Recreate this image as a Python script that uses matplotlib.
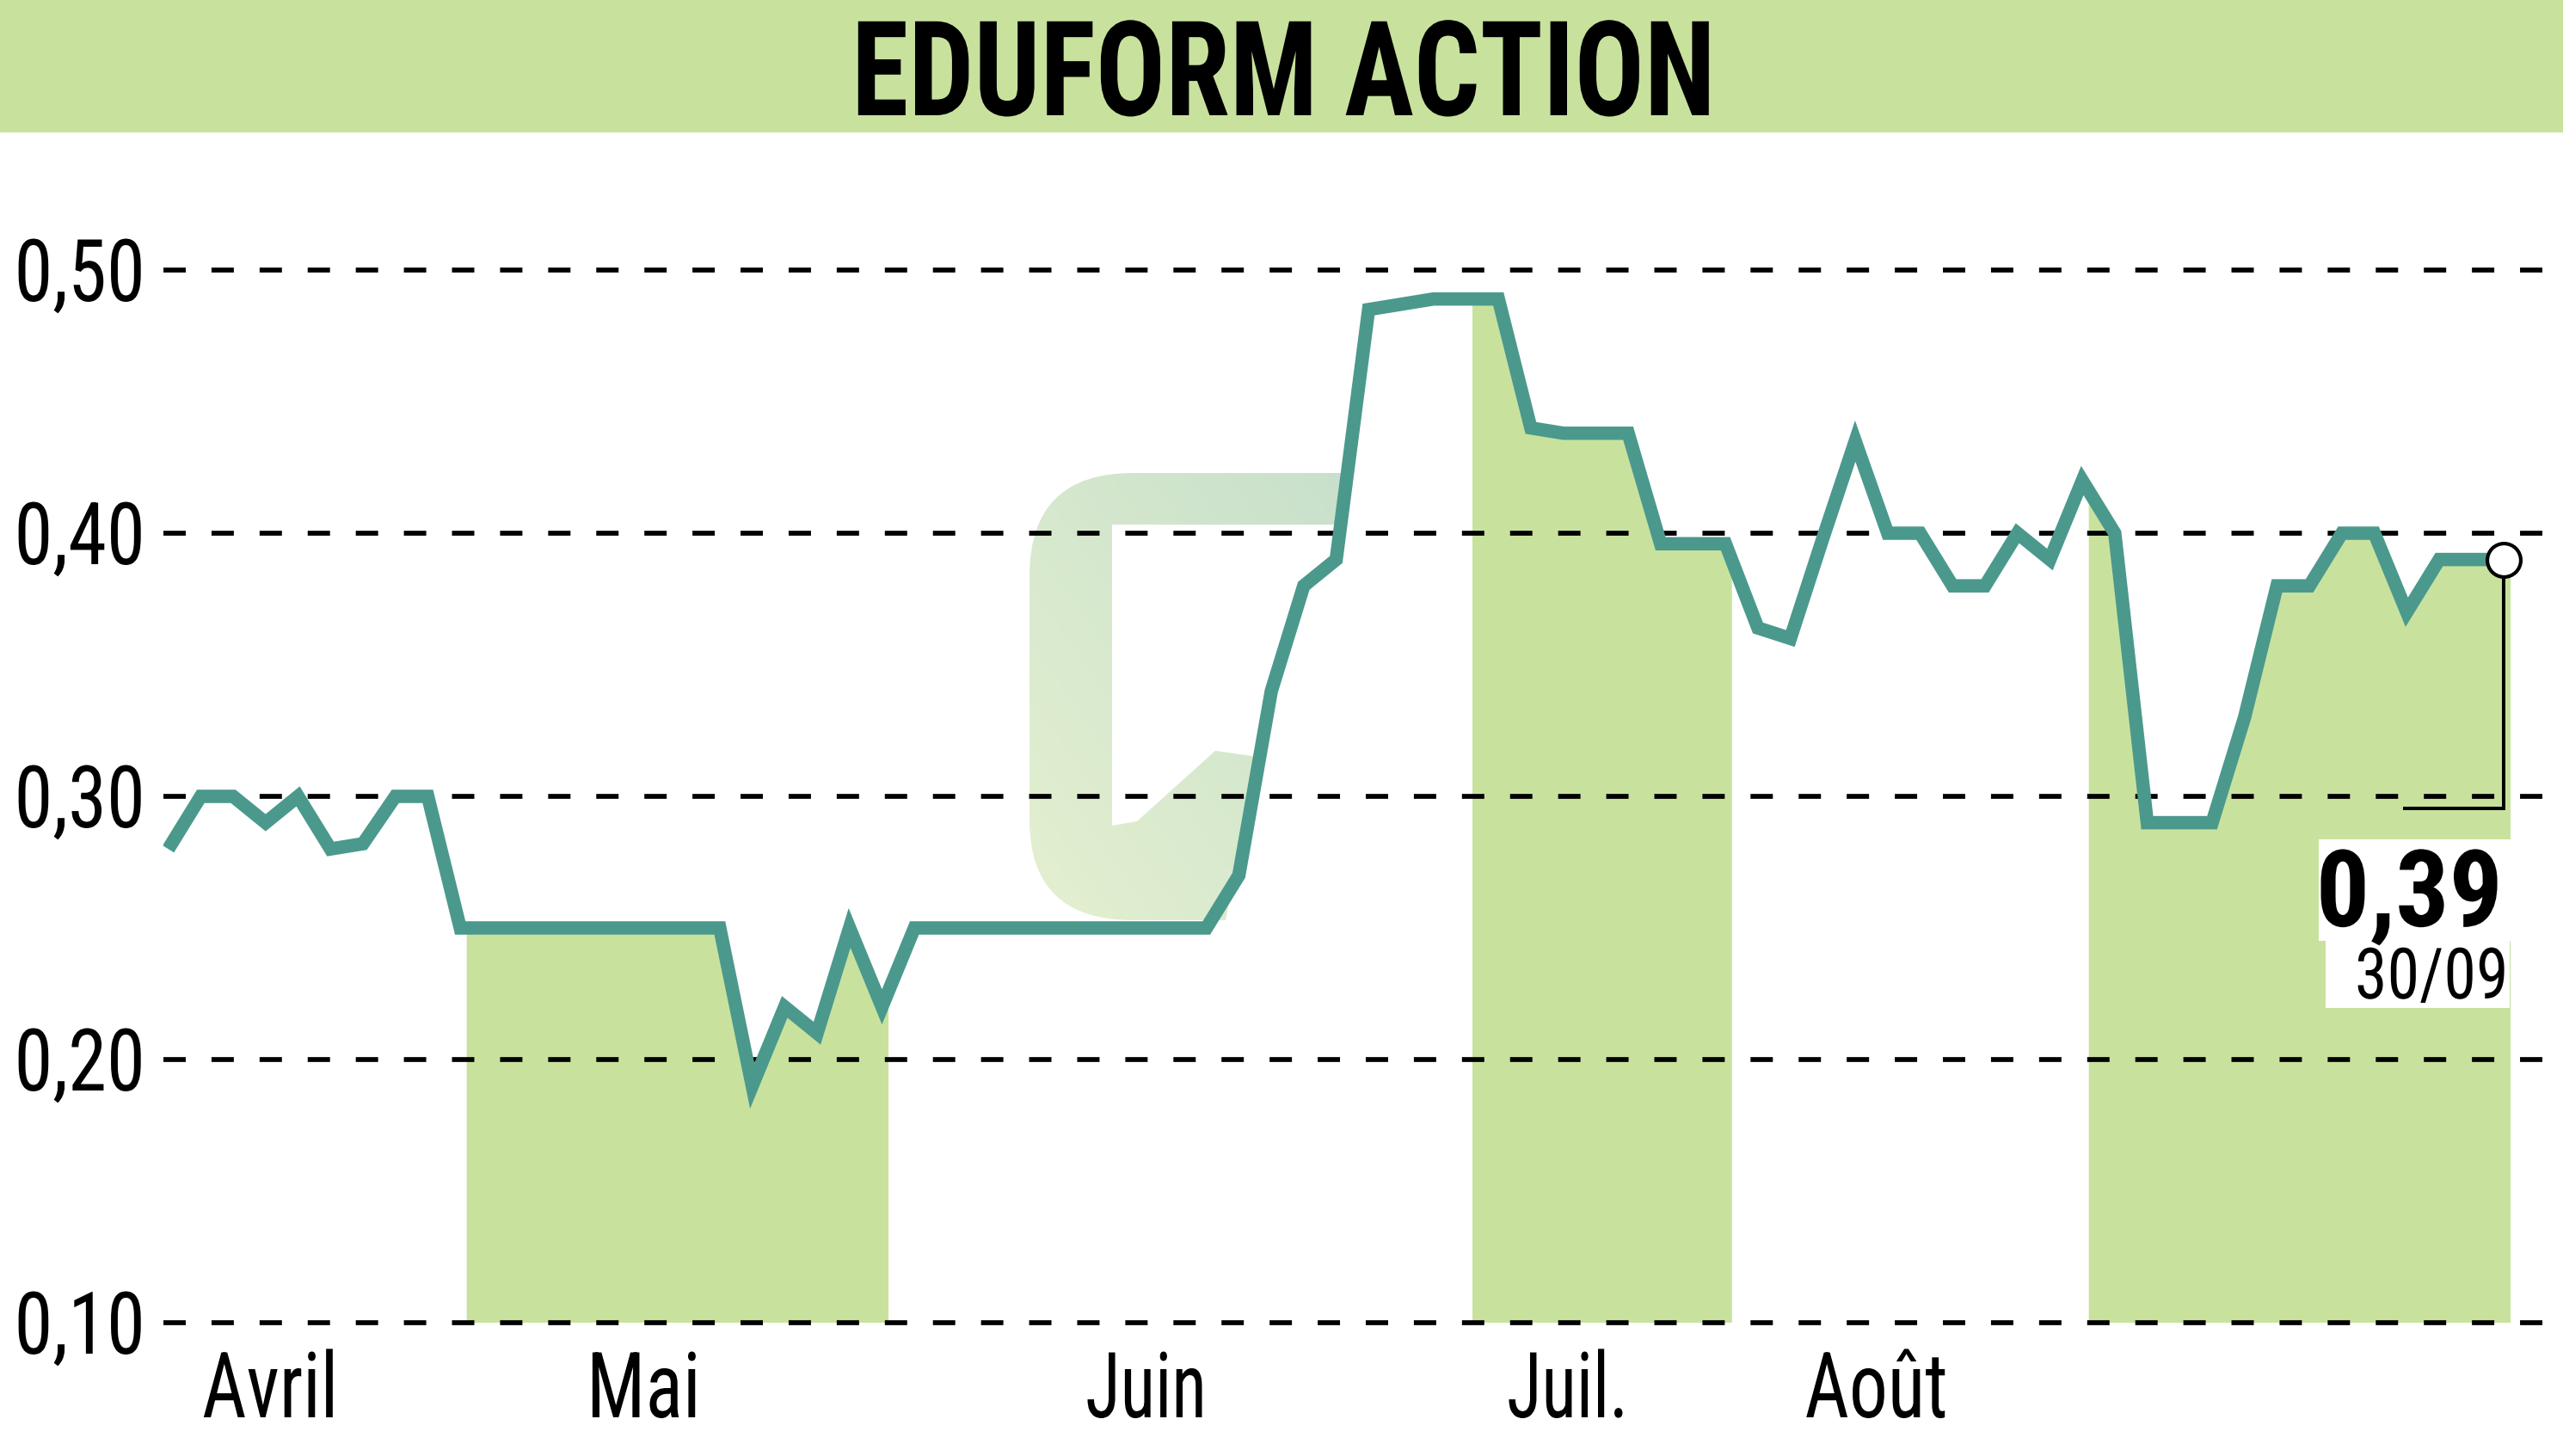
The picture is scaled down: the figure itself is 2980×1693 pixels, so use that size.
import numpy as np
import matplotlib
matplotlib.use("Agg")
import matplotlib.pyplot as plt
from matplotlib import font_manager as fm
from matplotlib.patches import Rectangle, PathPatch
from matplotlib.path import Path
from matplotlib.patheffects import AbstractPathEffect
from matplotlib.transforms import Affine2D, blended_transform_factory, offset_copy

# ---------------- data ----------------
title = "EDUFORM ACTION"
month_names = ["Avril", "Mai", "Juin", "Juil.", "Août", "Sept."]
month_first = [0, 10, 23, 41, 49, 60]          # first session index of each month
shaded_months = [1, 3, 5]                       # Mai, Juil., Sept.
y_ticks = [0.10, 0.20, 0.30, 0.40, 0.50]
y_tick_labels = ["0,10", "0,20", "0,30", "0,40", "0,50"]
prices = [0.28, 0.30, 0.30, 0.29, 0.30, 0.28, 0.282, 0.30, 0.30,
          0.25, 0.25, 0.25, 0.25, 0.25, 0.25, 0.25, 0.25, 0.25,
          0.19, 0.22, 0.21, 0.25, 0.22,
          0.25, 0.25, 0.25, 0.25, 0.25, 0.25, 0.25, 0.25, 0.25, 0.25,
          0.27, 0.34, 0.38, 0.39, 0.485, 0.487, 0.489, 0.489, 0.489,
          0.44, 0.438, 0.438, 0.438, 0.396, 0.396, 0.396,
          0.364, 0.36, 0.398, 0.435, 0.40, 0.40, 0.38, 0.38, 0.40, 0.39, 0.42,
          0.40, 0.29, 0.29, 0.29, 0.33, 0.38, 0.38, 0.40, 0.40, 0.37, 0.39, 0.39, 0.39]
last_value_label = "0,39"
last_date_label = "30/09"

# ---------------- style ----------------
W, H, DPI = 2980, 1693, 100
GREEN = "#c8e29e"
TEAL = "#4b998d"


def pick(names, bold=False):
    for n in names:
        fonts = [f for f in fm.fontManager.ttflist if f.name == n]
        if not fonts:
            continue
        if bold and not any(f.weight in (600, 700, 800, 900, "bold", "heavy") for f in fonts):
            continue
        return n
    return "DejaVu Sans"

COND = pick(["Liberation Sans Narrow", "Roboto Condensed", "Open Sans Condensed", "Liberation Sans", "Roboto"])
COND_B = pick(["Liberation Sans Narrow", "Roboto Condensed", "Open Sans Condensed", "Liberation Sans", "Roboto"], bold=True)


class InkFit(AbstractPathEffect):
    """Draw the text path squeezed horizontally so its ink has a given width."""
    def __init__(self, width, align="center"):
        super().__init__()
        self.width = width
        self.align = align

    def draw_path(self, renderer, gc, tpath, affine, rgbFace=None):
        ext = tpath.get_extents(affine)
        s = self.width / ext.width if ext.width > 0 else 1.0
        if self.align == "right":
            a = ext.x1
        elif self.align == "left":
            a = ext.x0
        else:
            a = 0.5 * (ext.x0 + ext.x1)
        extra = Affine2D().translate(-a, 0).scale(s, 1.0).translate(a, 0)
        m = (affine + extra).get_matrix()
        renderer.draw_path(gc, tpath, Affine2D(m), rgbFace)


fig = plt.figure(figsize=(W / DPI, H / DPI), dpi=DPI)
fig.patch.set_facecolor("white")

# background layer in image pixel coordinates
bg = fig.add_axes([0, 0, 1, 1], zorder=0)
bg.set_xlim(0, W)
bg.set_ylim(H, 0)
bg.set_axis_off()
bg.add_patch(Rectangle((0, 0), W, 154, facecolor=GREEN, edgecolor="none"))

# faint watermark logo
verts = [(1565, 550), (1317, 550), (1197, 550), (1197, 670), (1197, 953),
         (1197, 1070), (1317, 1070), (1425, 1070), (1462, 880), (1413, 873),
         (1322, 955), (1293, 960), (1293, 610), (1560, 610), (1565, 550)]
codes = [Path.MOVETO, Path.LINETO, Path.CURVE3, Path.CURVE3, Path.LINETO,
         Path.CURVE3, Path.CURVE3, Path.LINETO, Path.LINETO, Path.LINETO,
         Path.LINETO, Path.LINETO, Path.LINETO, Path.LINETO, Path.CLOSEPOLY]
wm = PathPatch(Path(verts, codes), facecolor="none", edgecolor="none", transform=bg.transData)
bg.add_patch(wm)
gy, gx = np.mgrid[0:1:200j, 0:1:200j]
t = np.clip(((1 - gx) + gy) / 2.0, 0, 1)[..., None]
c0 = np.array([200, 224, 203]) / 255.0
c1 = np.array([228, 240, 208]) / 255.0
grad = c0 * (1 - t) + c1 * t
im = bg.imshow(grad, extent=(1197, 1565, 1073, 550), aspect="auto", zorder=1, interpolation="bilinear")
im.set_clip_path(wm)
bg.set_xlim(0, W)
bg.set_ylim(H, 0)

bg.text(1492, 134, title, ha="center", va="baseline", fontsize=110.6,
        fontweight="bold", family=COND_B, color="black",
        path_effects=[InkFit(989, "center")])

# main chart axes
ax = fig.add_axes([190 / W, 1 - 1538 / H, (W - 190) / W, 1384 / H], zorder=1)
ax.set_facecolor("none")
ax.set_axis_off()
ax.set_xlim(-0.15, -0.15 + (W - 190) / 37.72)
ax.set_ylim(0.10, 0.10 + 1384 / 3060)

idx = np.arange(len(prices))
vals = np.array(prices)

# alternating month shading under the curve
for m in shaded_months:
    x0 = month_first[m] - 0.8
    x1 = month_first[m + 1] - 0.8 if m + 1 < len(month_first) else idx[-1] + 0.2
    xs = np.union1d(np.linspace(x0, x1, 400), idx[(idx > x0) & (idx < x1)])
    ys = np.interp(xs, idx, vals)
    ax.fill_between(xs, 0.10, ys, facecolor=GREEN, edgecolor="none", zorder=1)

for v in y_ticks:
    ax.axhline(v, color="black", lw=4.1, dashes=(4.56, 5.26), zorder=2, clip_on=False)

ax.plot(idx, vals, color=TEAL, lw=11.2, zorder=4, solid_joinstyle="miter",
        solid_capstyle="butt")
ax.plot(idx[-1], vals[-1], "o", ms=28, mfc="white", mec="black", mew=3.0, zorder=6)

# bracket from last point
fig.canvas.draw()
px, py = ax.transData.transform((idx[-1], vals[-1]))
pts = ax.transData.inverted().transform([(px, py - 19), (px, py - 289), (px - 117, py - 289)])
ax.plot(pts[:, 0], pts[:, 1], color="black", lw=2.9, zorder=5, clip_on=False,
        solid_joinstyle="miter", solid_capstyle="butt")

# y labels
ytrans = offset_copy(blended_transform_factory(fig.transFigure, ax.transData),
                     fig=fig, x=0, y=-36, units="dots")
for v, lab in zip(y_ticks, y_tick_labels):
    ax.text(16 / W, v, lab, transform=ytrans, ha="left", va="baseline",
            fontsize=72.4, family=COND, color="black",
            path_effects=[InkFit(142, "left")])

# month labels
month_widths = {"Avril": 150, "Mai": 120, "Juin": 133, "Juil.": 132, "Août": 161}
xtrans = blended_transform_factory(ax.transData, fig.transFigure)
for i, name in enumerate(month_names[:-1]):
    pos = (month_first[i] + month_first[i + 1]) / 2 - 1.85
    ax.text(pos, 1 - 1648 / H, name, transform=xtrans, ha="center", va="baseline",
            fontsize=76.4, family=COND, color="black",
            path_effects=[InkFit(month_widths[name], "center")])

# last value box (overlay)
top = fig.add_axes([0, 0, 1, 1], zorder=3)
top.set_xlim(0, W)
top.set_ylim(H, 0)
top.set_axis_off()
top.patch.set_alpha(0)
top.add_patch(Rectangle((2696, 976), 225, 118, facecolor="white", edgecolor="none"))
top.add_patch(Rectangle((2704, 1094), 214, 78, facecolor="white", edgecolor="none"))
top.text(2910, 1077, last_value_label, ha="right", va="baseline", fontsize=89.5,
         fontweight="bold", family=COND_B, color="black",
         path_effects=[InkFit(205, "right")])
top.text(2917, 1161, last_date_label, ha="right", va="baseline", fontsize=59.3,
         family=COND, color="black", path_effects=[InkFit(170, "right")])

fig.savefig("out.png", dpi=DPI, facecolor="white")
